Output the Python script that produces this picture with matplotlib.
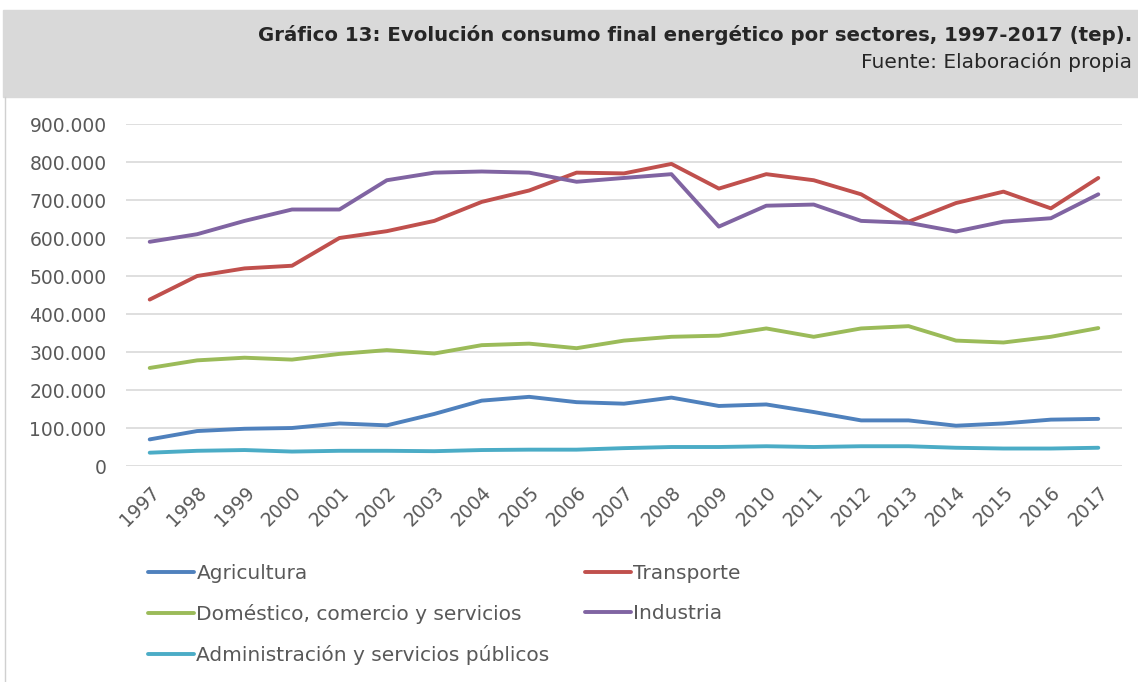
import matplotlib
matplotlib.use("Agg")
import matplotlib.pyplot as plt
from matplotlib.patches import Rectangle
from matplotlib.lines import Line2D

years = [str(y) for y in range(1997, 2018)]

agricultura = [70000, 92000, 98000, 100000, 112000, 107000, 137000, 172000, 182000, 168000,
               164000, 180000, 158000, 162000, 142000, 120000, 120000, 106000, 112000, 122000, 124000]
transporte = [438000, 500000, 520000, 527000, 600000, 618000, 645000, 695000, 725000, 772000,
              770000, 795000, 730000, 768000, 752000, 715000, 643000, 692000, 722000, 678000, 758000]
domestico = [258000, 278000, 285000, 280000, 295000, 305000, 296000, 318000, 322000, 310000,
             330000, 340000, 343000, 362000, 340000, 362000, 368000, 330000, 325000, 340000, 363000]
industria = [590000, 610000, 645000, 675000, 675000, 752000, 772000, 775000, 772000, 748000,
             758000, 768000, 630000, 685000, 688000, 645000, 640000, 617000, 643000, 652000, 715000]
administracion = [35000, 40000, 42000, 38000, 40000, 40000, 39000, 42000, 43000, 43000,
                  47000, 50000, 50000, 52000, 50000, 52000, 52000, 48000, 46000, 46000, 48000]

yticks = [0, 100000, 200000, 300000, 400000, 500000, 600000, 700000, 800000, 900000]
ytick_labels = ["0", "100.000", "200.000", "300.000", "400.000", "500.000",
                "600.000", "700.000", "800.000", "900.000"]

fig = plt.figure(figsize=(11.38, 6.82), dpi=100)

# grey header band and left border
fig.patches.append(Rectangle((3 / 1138, 1 - 97 / 682), 1, 87 / 682,
                             transform=fig.transFigure, color="#d9d9d9", zorder=0))
fig.add_artist(Line2D([5 / 1138, 5 / 1138], [0, 1 - 97 / 682],
                      transform=fig.transFigure, color="#d0d0d0", lw=1))

fig.text(1132 / 1138, 1 - 35 / 682,
         "Gráfico 13: Evolución consumo final energético por sectores, 1997-2017 (tep).",
         ha="right", va="center", fontsize=14.2, fontweight="bold", color="#262626")
fig.text(1132 / 1138, 1 - 62 / 682, "Fuente: Elaboración propia",
         ha="right", va="center", fontsize=14.5, color="#262626")

ax = fig.add_axes([126 / 1138, 1 - 466 / 682, 996 / 1138, 342 / 682])
x = list(range(len(years)))
series = [
    (agricultura, "Agricultura", "#4f81bd"),
    (transporte, "Transporte", "#c0504d"),
    (domestico, "Doméstico, comercio y servicios", "#9bbb59"),
    (industria, "Industria", "#8064a2"),
    (administracion, "Administración y servicios públicos", "#4bacc6"),
]
lines = {}
for vals, name, col in series:
    ln, = ax.plot(x, vals, color=col, lw=2.8, label=name, solid_capstyle="round")
    lines[name] = ln

ax.set_xlim(-0.5, len(years) - 0.5)
ax.set_ylim(0, 900000)
ax.set_yticks(yticks)
ax.set_yticklabels(ytick_labels)
ax.set_xticks(x)
ax.set_xticklabels(years, rotation=45, ha="right", rotation_mode="anchor")
ax.grid(axis="y", color="#d9d9d9", lw=1.2)
ax.set_axisbelow(True)
for s in ax.spines.values():
    s.set_visible(False)
ax.tick_params(length=0, labelsize=13.5, labelcolor="#595959")
ax.tick_params(axis="y", pad=14)
ax.tick_params(axis="x", pad=12)

order = ["Agricultura", "Doméstico, comercio y servicios", "Administración y servicios públicos",
         "Transporte", "Industria"]
fig.legend([lines[n] for n in order], order, ncol=2, frameon=False,
           loc="upper left", bbox_to_anchor=(130 / 1138, 1 - 546 / 682),
           fontsize=14.5, labelcolor="#595959", handlelength=2.3, handletextpad=0.1,
           columnspacing=1.75, labelspacing=1.05)

fig.savefig("out.png", dpi=100)
